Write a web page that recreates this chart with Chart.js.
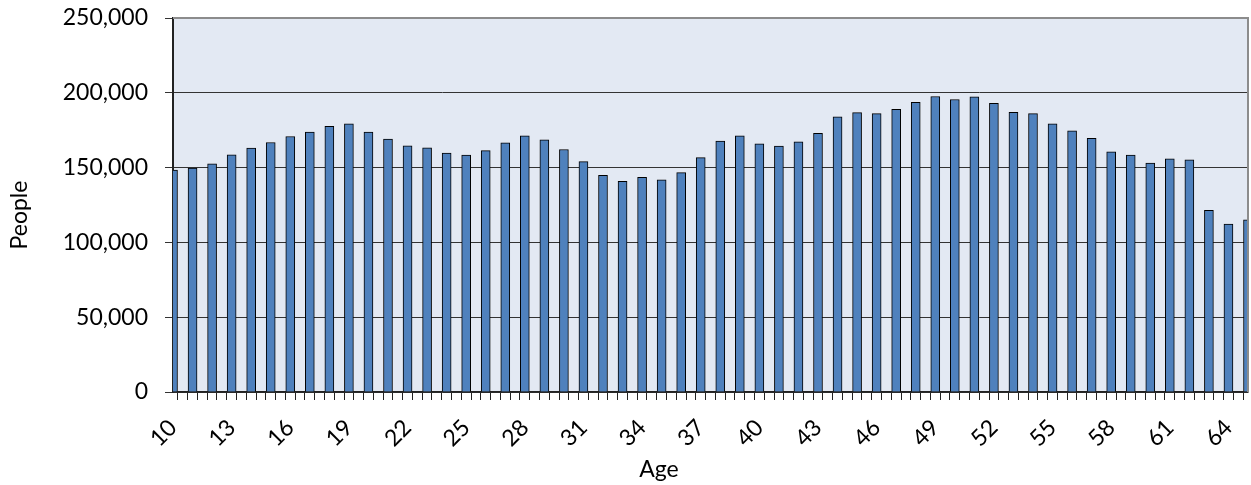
<!DOCTYPE html>
<html>
<head>
<meta charset="utf-8">
<script src="https://cdn.jsdelivr.net/npm/chart.js@4/dist/chart.umd.min.js"></script>
<style>
  html, body { margin: 0; padding: 0; background: #fff; }
  #wrap { width: 1251px; height: 485px; }
</style>
</head>
<body>
<div id="wrap"><canvas id="ageChart"></canvas></div>
<script>
// ages 10..65, one bar per single year of age
const ages = [
  10, 11, 12, 13, 14, 15, 16, 17, 18, 19, 20, 21, 22, 23, 24, 25, 26, 27, 28, 29,
  30, 31, 32, 33, 34, 35, 36, 37, 38, 39, 40, 41, 42, 43, 44, 45, 46, 47, 48, 49,
  50, 51, 52, 53, 54, 55, 56, 57, 58, 59, 60, 61, 62, 63, 64, 65
];
const people = [
  148300, 149600, 152500, 158500, 163000, 166800, 170800, 173800, 177600, 179200,
  173800, 169100, 164600, 163200, 159700, 158300, 161400, 166600, 171300, 168600,
  162100, 154000, 144900, 140900, 143500, 141900, 146600, 156700, 167700, 171300,
  165900, 164400, 167300, 172900, 183900, 186800, 186100, 189000, 193700, 197500,
  195500, 197300, 193000, 187000, 186100, 179200, 174500, 169500, 160600, 158300,
  153000, 155800, 155200, 121400, 112200, 115100
];
// only every third age gets a label
const labeledAges = [10, 13, 16, 19, 22, 25, 28, 31, 34, 37, 40, 43, 46, 49, 52, 55, 58, 61, 64];
const yMax = 250000;
const yStep = 50000;

const FONT = 'Lato, "Open Sans", sans-serif';

// plot background, grey frame and the two axis titles
const plotFrame = {
  id: 'plotFrame',
  beforeDraw(chart) {
    const { ctx, chartArea: a } = chart;
    ctx.save();
    ctx.fillStyle = '#e3e9f3';
    ctx.fillRect(a.left, a.top, a.right - a.left, a.bottom - a.top);
    ctx.restore();
  },
  afterDraw(chart) {
    const { ctx, chartArea: a } = chart;
    ctx.save();
    ctx.strokeStyle = '#8c8c8c';
    ctx.lineWidth = 2;
    ctx.beginPath();
    ctx.moveTo(a.left, a.top);
    ctx.lineTo(a.right, a.top);
    ctx.lineTo(a.right, a.bottom);
    ctx.stroke();

    ctx.fillStyle = '#000';
    ctx.font = '23px ' + FONT;
    ctx.textAlign = 'center';
    ctx.textBaseline = 'middle';
    ctx.fillText('Age', 659, 470);
    ctx.translate(20, 215);
    ctx.rotate(-Math.PI / 2);
    ctx.fillText('People', 0, 0);
    ctx.restore();
  }
};

const ctx = document.getElementById('ageChart').getContext('2d');
new Chart(ctx, {
  type: 'bar',
  data: {
    labels: ages,
    datasets: [{
      label: 'People',
      data: people,
      backgroundColor: '#4f81bd',
      borderColor: '#000',
      borderWidth: 1,
      borderSkipped: 'bottom',
      barThickness: 9
    }]
  },
  options: {
    responsive: true,
    maintainAspectRatio: false,
    animation: false,
    layout: { padding: { top: 18, right: 3, left: 0, bottom: 0 } },
    plugins: {
      legend: { display: false },
      tooltip: { enabled: false }
    },
    scales: {
      x: {
        type: 'linear',
        min: 10,
        max: 65,
        offset: false,
        afterFit(scale) {
          scale.height = 93;
          scale.paddingLeft = 0;
          scale.paddingRight = 0;
        },
        grid: {
          drawOnChartArea: false,
          drawTicks: true,
          tickLength: 8,
          color: '#222'
        },
        border: { display: true, color: '#222', width: 1.5 },
        ticks: {
          stepSize: 0.5,
          maxTicksLimit: 300,
          autoSkip: false,
          minRotation: 45,
          maxRotation: 45,
          padding: 14,
          color: '#000',
          font: { family: FONT, size: 23 },
          callback: v => labeledAges.includes(v) ? String(v) : ''
        }
      },
      y: {
        min: 0,
        max: yMax,
        afterFit(scale) {
          scale.width = 173;
          scale.paddingTop = 0;
          scale.paddingBottom = 0;
        },
        grid: {
          color: '#333',
          lineWidth: 1,
          tickLength: 8
        },
        border: { display: true, color: '#222', width: 2 },
        ticks: {
          stepSize: yStep,
          padding: 17,
          color: '#000',
          font: { family: FONT, size: 23 },
          callback: v => v.toLocaleString('en-US')
        }
      }
    }
  },
  plugins: [plotFrame]
});
</script>
</body>
</html>
